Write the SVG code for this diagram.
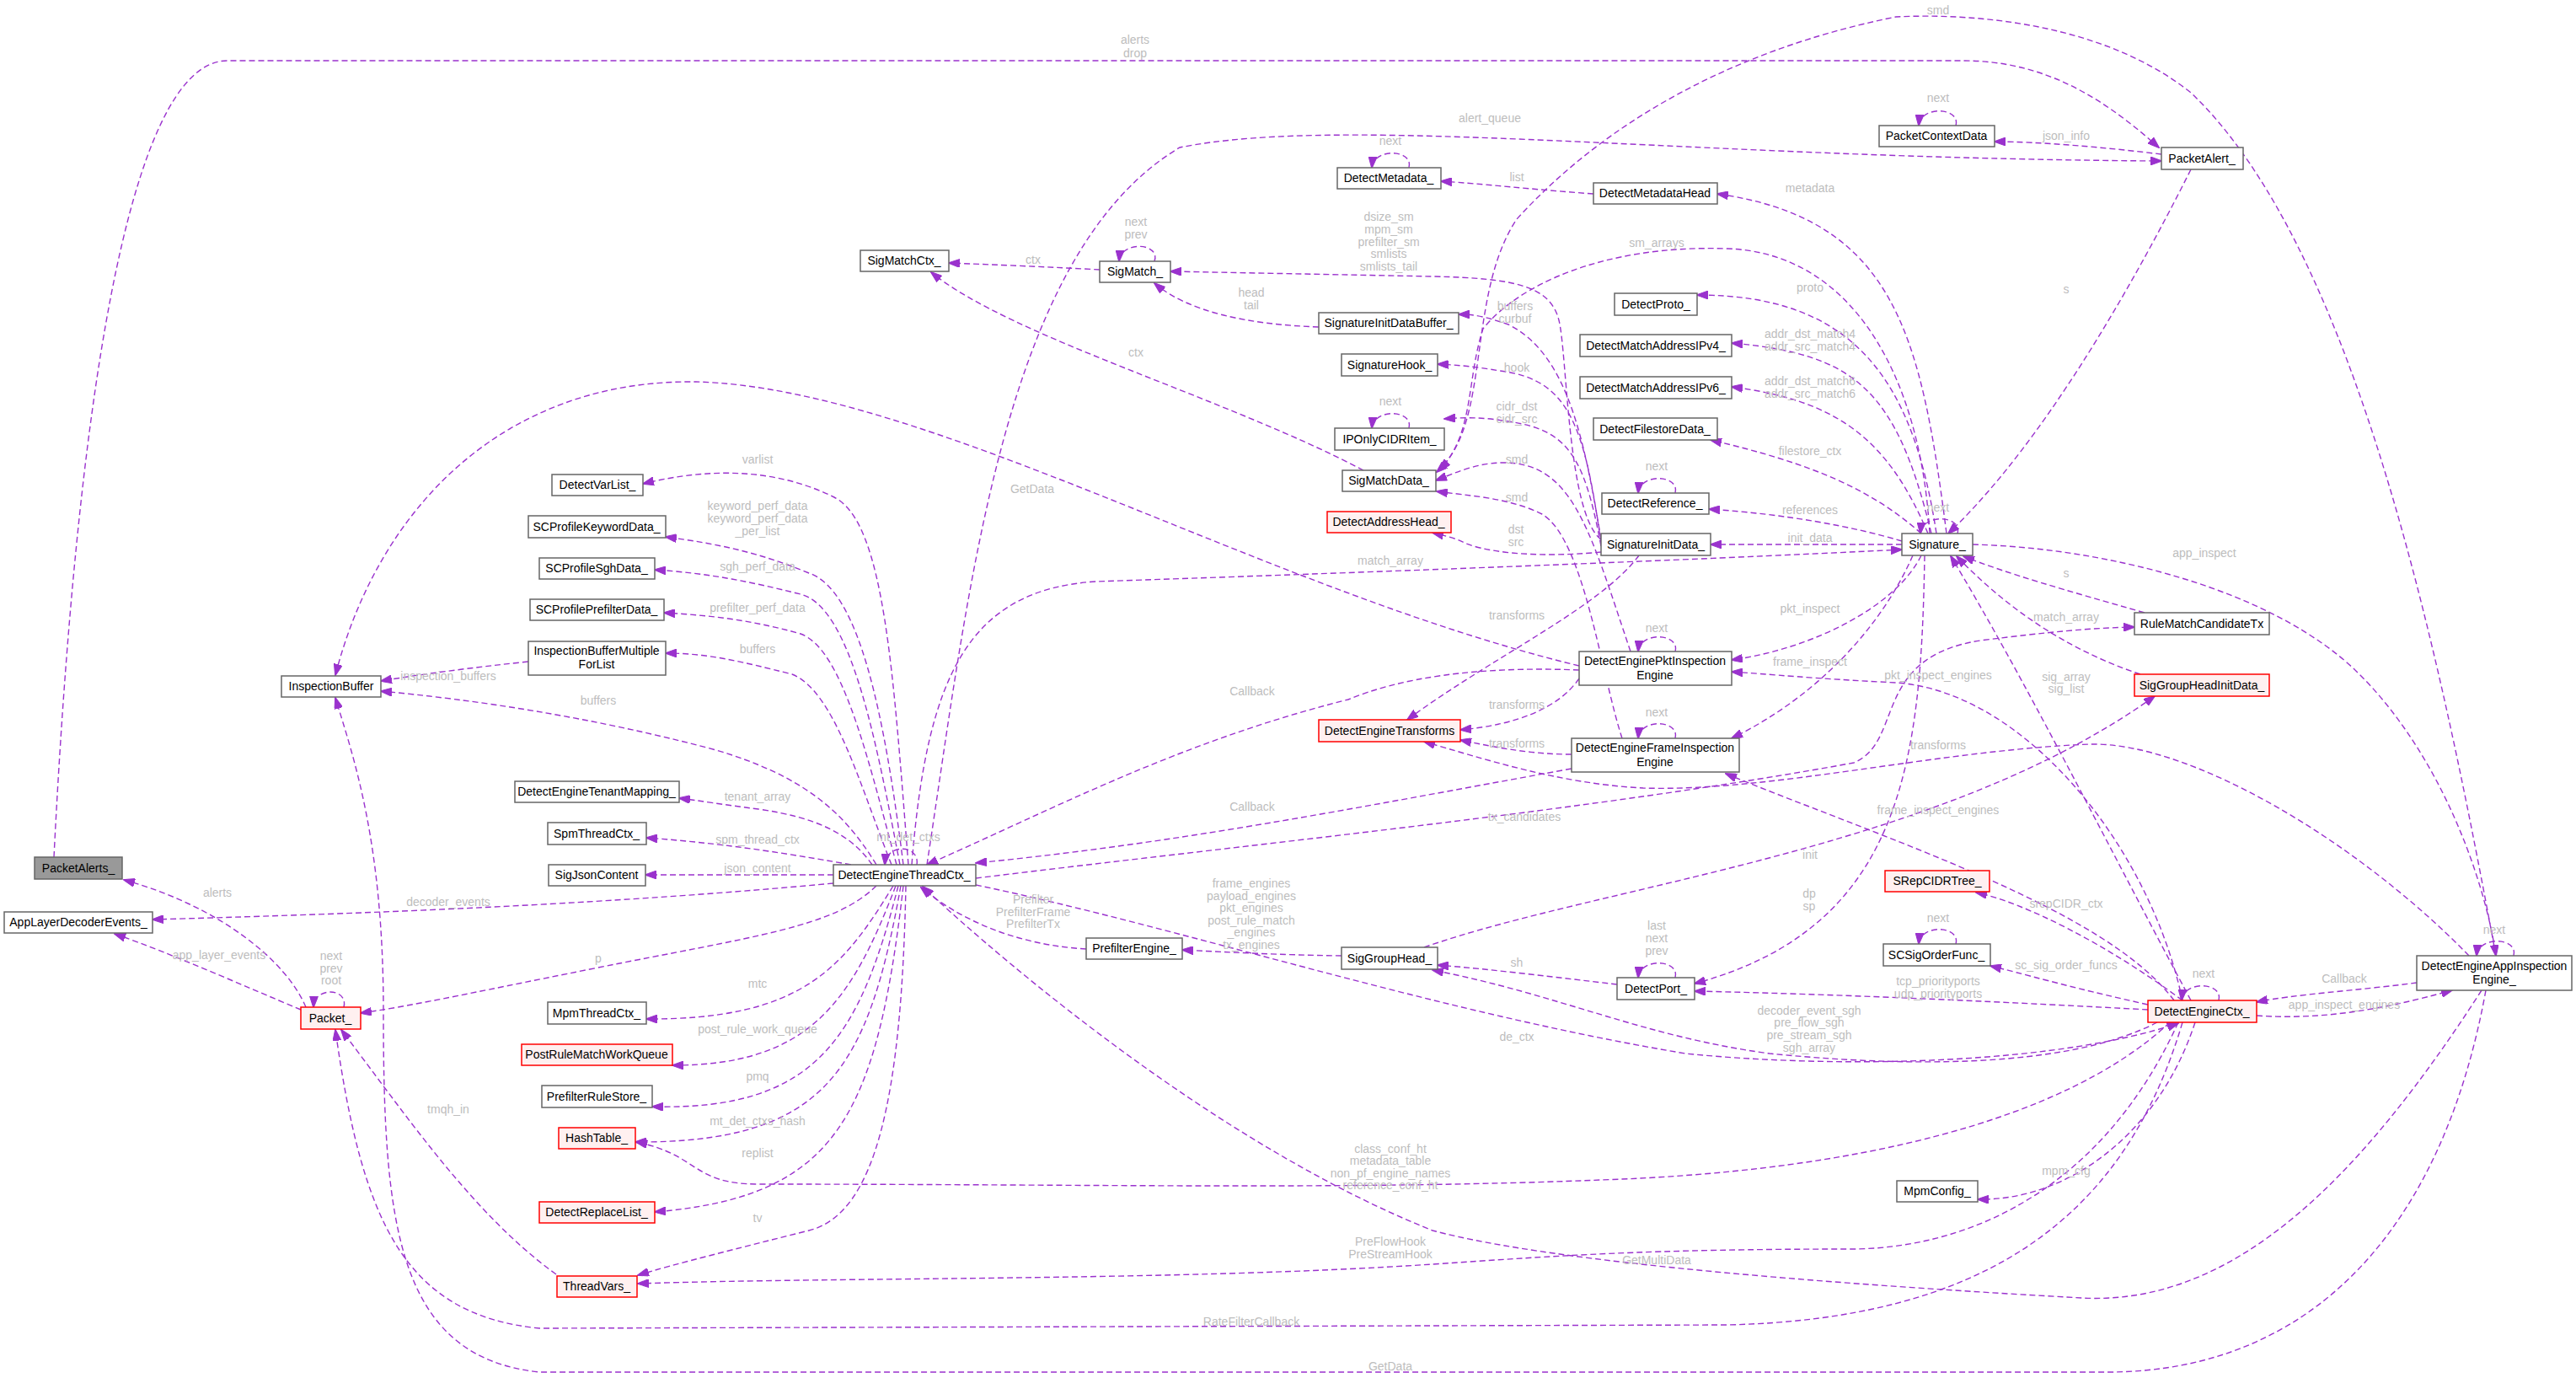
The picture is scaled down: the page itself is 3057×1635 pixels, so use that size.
<svg xmlns="http://www.w3.org/2000/svg" width="3057" height="1635" viewBox="0 0 3057 1635">
<style>
.n rect{fill:#fff;stroke:#666;stroke-width:1.5}
.r rect{fill:#fff0f0;stroke:#f00;stroke-width:1.5}
.g rect{fill:#999;stroke:#666;stroke-width:1.5}
.n text,.r text,.g text{font-family:"Liberation Sans",Arial,sans-serif;font-size:14px;fill:#000;text-anchor:middle}
#edges path{fill:none;stroke:#9a32cd;stroke-width:1.4;stroke-dasharray:7,4;marker-end:url(#ah)}
.l{font-family:"Liberation Sans",Arial,sans-serif;font-size:14px;fill:#bdbdbd;text-anchor:middle}
</style>
<defs>
<marker id="ah" markerWidth="14" markerHeight="10" refX="13" refY="5" orient="auto" markerUnits="userSpaceOnUse">
<path d="M0,0 L14,5 L0,10 z" fill="#9a32cd" stroke="#9a32cd"/>
</marker>
</defs>
<rect width="3057" height="1635" fill="#fff"/>
<g id="edges">
<path d="M64 1017 C90 500,150 72,270 72 L2330 72 C2430 72,2500 120,2562 175"/>
<path d="M363 1195 C340 1140,260 1075,147 1044"/>
<path d="M357 1198 C290 1170,200 1130,136 1108"/>
<path d="M408 1195 C414 1172,373 1170,372 1195"/>
<path d="M989 1048 C700 1075,400 1085,181 1091"/>
<path d="M1040 1051 C990 1100,900 1110,700 1150 C550 1180,480 1195,428 1202"/>
<path d="M660 1512 C560 1440,480 1320,405 1222"/>
<path d="M2950 1175 C2900 1450,2750 1628,2500 1628 L640 1628 C470 1610,455 1450,455 1200 C455 1000,420 900,398 828"/>
<path d="M2590 1213 C2520 1450,2350 1565,2050 1572 L640 1576 C480 1560,430 1450,398 1222"/>
<path d="M2945 1175 C2800 1400,2650 1550,2470 1540 C2200 1525,1850 1500,1700 1460 C1450 1360,1200 1150,1095 1052"/>
<path d="M2585 1213 C2500 1400,2350 1480,2200 1482 C1950 1482,1850 1490,1700 1500 C1400 1520,1000 1515,757 1523"/>
<path d="M2575 1213 C2450 1330,2200 1390,1900 1400 C1600 1412,1300 1405,900 1405 C820 1405,830 1370,755 1355"/>
<path d="M1078 1026 C1060 800,1050 620,990 590 C920 555,840 555,763 574"/>
<path d="M1072 1026 C1050 850,1020 700,960 680 C900 655,850 645,790 637"/>
<path d="M1068 1026 C1040 880,1010 720,950 705 C890 690,840 680,777 676"/>
<path d="M1064 1026 C1030 900,1000 770,950 752 C890 735,840 730,788 727"/>
<path d="M1058 1026 C1020 930,990 820,940 800 C880 785,840 775,790 775"/>
<path d="M1040 1026 C1000 960,950 920,850 890 C700 850,560 830,452 820"/>
<path d="M1035 1026 C1010 990,970 970,900 960 C860 955,830 950,806 947"/>
<path d="M1010 1026 C920 1010,850 1000,767 994"/>
<path d="M989 1038 L766 1038"/>
<path d="M1060 1051 C1000 1150,950 1210,767 1209"/>
<path d="M1063 1051 C1010 1190,960 1264,798 1264"/>
<path d="M1066 1051 C1020 1230,970 1318,774 1313"/>
<path d="M1069 1051 C1030 1270,980 1356,754 1355"/>
<path d="M1072 1051 C1040 1330,990 1420,777 1438"/>
<path d="M1075 1051 C1070 1300,1040 1440,960 1460 C880 1480,800 1500,757 1513"/>
<path d="M1088 1026 C1092 1002,1052 1000,1050 1026"/>
<path d="M627 785 C560 792,500 800,452 808"/>
<path d="M1305 320 C1250 317,1180 314,1126 312"/>
<path d="M1618 558 C1450 470,1200 400,1105 323"/>
<path d="M1370 310 C1378 288,1330 285,1328 310"/>
<path d="M1565 388 C1480 385,1410 370,1370 336"/>
<path d="M1900 640 C1860 610,1860 420,1850 380 C1840 340,1800 330,1700 328 L1389 322"/>
<path d="M2290 633 C2280 450,2200 300,2050 295 C1900 290,1800 340,1760 390 C1740 450,1750 520,1705 560"/>
<path d="M2962 1134 C2900 800,2800 300,2600 110 C2500 30,2350 15,2250 20 C2050 60,1900 150,1800 260 C1740 350,1770 500,1708 557"/>
<path d="M1935 773 C1890 640,1870 560,1800 550 C1760 545,1730 560,1704 570"/>
<path d="M1925 876 C1900 800,1880 640,1830 610 C1790 590,1740 588,1705 583"/>
<path d="M1900 640 C1880 520,1860 420,1790 385 C1760 375,1750 373,1731 373"/>
<path d="M1900 645 C1880 500,1860 450,1780 440 C1750 435,1730 433,1706 432"/>
<path d="M1900 648 C1880 540,1860 510,1790 500 C1760 495,1740 495,1714 497"/>
<path d="M1672 508 C1678 486,1630 484,1628 508"/>
<path d="M1900 655 C1850 660,1780 660,1740 645 C1730 640,1725 638,1700 632"/>
<path d="M1672 199 C1678 177,1630 175,1628 199"/>
<path d="M1988 585 C1994 563,1946 561,1944 585"/>
<path d="M1945 659 C1900 720,1770 780,1670 854"/>
<path d="M1874 805 C1850 840,1800 860,1733 866"/>
<path d="M1865 895 C1820 895,1780 888,1733 878"/>
<path d="M2930 1134 C2800 1000,2600 880,2480 883 C2300 890,2100 940,1950 935 C1850 930,1760 900,1690 880"/>
<path d="M1988 773 C1994 751,1946 749,1944 773"/>
<path d="M1988 876 C1994 854,1946 852,1944 876"/>
<path d="M2280 659 C2250 720,2150 770,2055 783"/>
<path d="M2270 659 C2230 750,2150 830,2055 876"/>
<path d="M2590 1187 C2550 1000,2400 820,2250 810 C2150 805,2100 800,2055 797"/>
<path d="M2580 1187 C2500 1080,2250 1000,2048 918"/>
<path d="M2310 633 C2280 400,2250 260,2038 230"/>
<path d="M1891 230 C1820 225,1760 218,1710 215"/>
<path d="M2298 633 C2270 450,2200 350,2014 350"/>
<path d="M2292 633 C2250 460,2200 420,2055 407"/>
<path d="M2288 633 C2240 520,2180 475,2055 459"/>
<path d="M2280 633 C2220 580,2150 550,2030 522"/>
<path d="M2257 642 C2200 625,2120 610,2028 604"/>
<path d="M2257 646 L2030 646"/>
<path d="M2323 633 C2329 611,2281 609,2279 633"/>
<path d="M2600 201 C2500 400,2400 550,2312 633"/>
<path d="M2565 183 C2500 175,2420 168,2367 168"/>
<path d="M2321 149 C2327 127,2279 125,2277 149"/>
<path d="M1100 1026 C1150 700,1190 300,1400 175 C1600 135,2000 188,2565 191"/>
<path d="M2341 646 C2500 650,2700 700,2800 800 C2900 900,2950 1050,2962 1134"/>
<path d="M2545 727 C2450 700,2380 680,2330 660"/>
<path d="M2540 800 C2450 770,2380 720,2322 660"/>
<path d="M2600 1187 C2500 1000,2400 800,2315 660"/>
<path d="M1158 1042 C1500 1000,1900 960,2200 905 C2260 880,2220 780,2350 760 C2430 750,2480 745,2533 744"/>
<path d="M1690 1124 C1900 1050,2300 1010,2557 826"/>
<path d="M2284 659 C2280 900,2260 1100,2011 1167"/>
<path d="M1919 1168 C1850 1160,1770 1150,1706 1145"/>
<path d="M1988 1160 C1994 1138,1946 1136,1944 1160"/>
<path d="M1592 1134 C1520 1133,1460 1130,1403 1127"/>
<path d="M1289 1126 C1220 1122,1150 1100,1093 1053"/>
<path d="M1158 1050 C1400 1100,1700 1200,2000 1250 C2200 1270,2450 1260,2585 1214"/>
<path d="M2560 1213 C2450 1270,2250 1265,2100 1250 C1950 1230,1850 1180,1700 1151"/>
<path d="M2549 1198 C2400 1190,2200 1180,2011 1176"/>
<path d="M2590 1187 C2500 1120,2400 1070,2345 1059"/>
<path d="M2549 1192 C2450 1170,2400 1155,2362 1146"/>
<path d="M2321 1120 C2327 1098,2279 1096,2277 1120"/>
<path d="M2633 1187 C2639 1165,2591 1163,2589 1187"/>
<path d="M2868 1166 C2800 1175,2720 1180,2678 1189"/>
<path d="M2678 1205 C2750 1210,2820 1200,2910 1175"/>
<path d="M2983 1134 C2989 1112,2941 1110,2939 1134"/>
<path d="M2605 1213 C2560 1350,2450 1425,2347 1423"/>
<path d="M1874 795 C1750 790,1660 805,1600 830 C1400 880,1250 960,1100 1026"/>
<path d="M1865 912 C1600 960,1400 1000,1158 1024"/>
<path d="M1082 1026 C1100 800,1150 700,1300 690 C1600 680,2000 665,2257 652"/>
<path d="M1874 790 C1500 700,1100 460,826 453 C600 450,450 600,398 801"/>
</g>
<g id="labels">
<text class="l" x="1347" y="52">alerts</text><text class="l" x="1347" y="68">drop</text>
<text class="l" x="258" y="1064">alerts</text>
<text class="l" x="260" y="1138">app_layer_events</text>
<text class="l" x="393" y="1139">next</text><text class="l" x="393" y="1154">prev</text><text class="l" x="393" y="1168">root</text>
<text class="l" x="532" y="1075">decoder_events</text>
<text class="l" x="710" y="1142">p</text>
<text class="l" x="532" y="1321">tmqh_in</text>
<text class="l" x="1650" y="1626">GetData</text>
<text class="l" x="1485" y="1573">RateFilterCallback</text>
<text class="l" x="1966" y="1500">GetMultiData</text>
<text class="l" x="1650" y="1478">PreFlowHook</text><text class="l" x="1650" y="1493">PreStreamHook</text>
<text class="l" x="1650" y="1368">class_conf_ht</text><text class="l" x="1650" y="1382">metadata_table</text><text class="l" x="1650" y="1397">non_pf_engine_names</text><text class="l" x="1650" y="1411">reference_conf_ht</text>
<text class="l" x="899" y="550">varlist</text>
<text class="l" x="899" y="605">keyword_perf_data</text><text class="l" x="899" y="620">keyword_perf_data</text><text class="l" x="899" y="635">_per_list</text>
<text class="l" x="899" y="677">sgh_perf_data</text>
<text class="l" x="899" y="726">prefilter_perf_data</text>
<text class="l" x="899" y="775">buffers</text>
<text class="l" x="710" y="836">buffers</text>
<text class="l" x="899" y="950">tenant_array</text>
<text class="l" x="899" y="1001">spm_thread_ctx</text>
<text class="l" x="899" y="1035">json_content</text>
<text class="l" x="899" y="1172">mtc</text>
<text class="l" x="899" y="1226">post_rule_work_queue</text>
<text class="l" x="899" y="1282">pmq</text>
<text class="l" x="899" y="1335">mt_det_ctxs_hash</text>
<text class="l" x="899" y="1373">replist</text>
<text class="l" x="899" y="1450">tv</text>
<text class="l" x="1078" y="998">mt_det_ctxs</text>
<text class="l" x="532" y="807">inspection_buffers</text>
<text class="l" x="1226" y="313">ctx</text>
<text class="l" x="1348" y="423">ctx</text>
<text class="l" x="1348" y="268">next</text><text class="l" x="1348" y="283">prev</text>
<text class="l" x="1485" y="352">head</text><text class="l" x="1485" y="367">tail</text>
<text class="l" x="1648" y="262">dsize_sm</text><text class="l" x="1648" y="277">mpm_sm</text><text class="l" x="1648" y="292">prefilter_sm</text><text class="l" x="1648" y="306">smlists</text><text class="l" x="1648" y="321">smlists_tail</text>
<text class="l" x="1966" y="293">sm_arrays</text>
<text class="l" x="2300" y="17">smd</text>
<text class="l" x="1800" y="550">smd</text>
<text class="l" x="1800" y="595">smd</text>
<text class="l" x="1798" y="368">buffers</text><text class="l" x="1798" y="383">curbuf</text>
<text class="l" x="1800" y="441">hook</text>
<text class="l" x="1800" y="487">cidr_dst</text><text class="l" x="1800" y="502">cidr_src</text>
<text class="l" x="1650" y="481">next</text>
<text class="l" x="1799" y="633">dst</text><text class="l" x="1799" y="648">src</text>
<text class="l" x="1650" y="172">next</text>
<text class="l" x="1966" y="558">next</text>
<text class="l" x="1800" y="735">transforms</text>
<text class="l" x="1800" y="841">transforms</text>
<text class="l" x="1800" y="887">transforms</text>
<text class="l" x="2300" y="889">transforms</text>
<text class="l" x="1966" y="750">next</text>
<text class="l" x="1966" y="850">next</text>
<text class="l" x="2148" y="727">pkt_inspect</text>
<text class="l" x="2148" y="790">frame_inspect</text>
<text class="l" x="2300" y="806">pkt_inspect_engines</text>
<text class="l" x="2300" y="966">frame_inspect_engines</text>
<text class="l" x="2148" y="228">metadata</text>
<text class="l" x="1800" y="215">list</text>
<text class="l" x="2148" y="346">proto</text>
<text class="l" x="2148" y="401">addr_dst_match4</text><text class="l" x="2148" y="416">addr_src_match4</text>
<text class="l" x="2148" y="457">addr_dst_match6</text><text class="l" x="2148" y="472">addr_src_match6</text>
<text class="l" x="2148" y="540">filestore_ctx</text>
<text class="l" x="2148" y="610">references</text>
<text class="l" x="2148" y="643">init_data</text>
<text class="l" x="2300" y="607">next</text>
<text class="l" x="2452" y="348">s</text>
<text class="l" x="2452" y="166">json_info</text>
<text class="l" x="2300" y="121">next</text>
<text class="l" x="1768" y="145">alert_queue</text>
<text class="l" x="2616" y="661">app_inspect</text>
<text class="l" x="2452" y="685">s</text>
<text class="l" x="2452" y="737">match_array</text>
<text class="l" x="2452" y="808">sig_array</text><text class="l" x="2452" y="822">sig_list</text>
<text class="l" x="1809" y="974">tx_candidates</text>
<text class="l" x="2148" y="1019">init</text>
<text class="l" x="2147" y="1065">dp</text><text class="l" x="2147" y="1080">sp</text>
<text class="l" x="1800" y="1147">sh</text>
<text class="l" x="1966" y="1103">last</text><text class="l" x="1966" y="1118">next</text><text class="l" x="1966" y="1133">prev</text>
<text class="l" x="1485" y="1053">frame_engines</text><text class="l" x="1485" y="1068">payload_engines</text><text class="l" x="1485" y="1082">pkt_engines</text><text class="l" x="1485" y="1097">post_rule_match</text><text class="l" x="1485" y="1111">_engines</text><text class="l" x="1485" y="1126">tx_engines</text>
<text class="l" x="1226" y="1072">Prefilter</text><text class="l" x="1226" y="1087">PrefilterFrame</text><text class="l" x="1226" y="1101">PrefilterTx</text>
<text class="l" x="1800" y="1235">de_ctx</text>
<text class="l" x="2147" y="1204">decoder_event_sgh</text><text class="l" x="2147" y="1218">pre_flow_sgh</text><text class="l" x="2147" y="1233">pre_stream_sgh</text><text class="l" x="2147" y="1248">sgh_array</text>
<text class="l" x="2300" y="1169">tcp_priorityports</text><text class="l" x="2300" y="1184">udp_priorityports</text>
<text class="l" x="2452" y="1077">srepCIDR_ctx</text>
<text class="l" x="2452" y="1150">sc_sig_order_funcs</text>
<text class="l" x="2300" y="1094">next</text>
<text class="l" x="2615" y="1160">next</text>
<text class="l" x="2782" y="1166">Callback</text>
<text class="l" x="2782" y="1197">app_inspect_engines</text>
<text class="l" x="2960" y="1108">next</text>
<text class="l" x="2452" y="1394">mpm_cfg</text>
<text class="l" x="1486" y="825">Callback</text>
<text class="l" x="1486" y="962">Callback</text>
<text class="l" x="1650" y="670">match_array</text>
<text class="l" x="1225" y="585">GetData</text>
</g>
<g id="PacketAlerts_" class="g"><rect x="41" y="1017" width="104" height="26"/><text x="93" y="1035">PacketAlerts_</text></g>
<g id="AppLayerDecoderEvents_" class="n"><rect x="5" y="1082" width="176" height="25"/><text x="93" y="1099">AppLayerDecoderEvents_</text></g>
<g id="Packet_" class="r"><rect x="357" y="1195" width="71" height="26"/><text x="392" y="1213">Packet_</text></g>
<g id="InspectionBuffer" class="n"><rect x="334" y="802" width="118" height="25"/><text x="393" y="819">InspectionBuffer</text></g>
<g id="SigMatchCtx_" class="n"><rect x="1021" y="297" width="105" height="25"/><text x="1073" y="314">SigMatchCtx_</text></g>
<g id="DetectVarList_" class="n"><rect x="655" y="563" width="108" height="25"/><text x="709" y="580">DetectVarList_</text></g>
<g id="SCProfileKeywordData_" class="n"><rect x="627" y="612" width="163" height="26"/><text x="708" y="630">SCProfileKeywordData_</text></g>
<g id="SCProfileSghData_" class="n"><rect x="640" y="662" width="137" height="25"/><text x="708" y="679">SCProfileSghData_</text></g>
<g id="SCProfilePrefilterData_" class="n"><rect x="629" y="711" width="159" height="25"/><text x="708" y="728">SCProfilePrefilterData_</text></g>
<g id="InspectionBufferMultipleForList" class="n"><rect x="627" y="761" width="163" height="40"/><text x="708" y="777">InspectionBufferMultiple</text><text x="708" y="793">ForList</text></g>
<g id="DetectEngineTenantMapping_" class="n"><rect x="611" y="927" width="195" height="25"/><text x="708" y="944">DetectEngineTenantMapping_</text></g>
<g id="SpmThreadCtx_" class="n"><rect x="650" y="976" width="117" height="26"/><text x="708" y="994">SpmThreadCtx_</text></g>
<g id="SigJsonContent" class="n"><rect x="651" y="1026" width="115" height="25"/><text x="708" y="1043">SigJsonContent</text></g>
<g id="DetectEngineThreadCtx_" class="n"><rect x="989" y="1026" width="169" height="25"/><text x="1073" y="1043">DetectEngineThreadCtx_</text></g>
<g id="MpmThreadCtx_" class="n"><rect x="650" y="1189" width="117" height="26"/><text x="708" y="1207">MpmThreadCtx_</text></g>
<g id="PostRuleMatchWorkQueue" class="r"><rect x="619" y="1239" width="179" height="25"/><text x="708" y="1256">PostRuleMatchWorkQueue</text></g>
<g id="PrefilterRuleStore_" class="n"><rect x="643" y="1288" width="131" height="26"/><text x="708" y="1306">PrefilterRuleStore_</text></g>
<g id="HashTable_" class="r"><rect x="663" y="1338" width="91" height="25"/><text x="708" y="1355">HashTable_</text></g>
<g id="DetectReplaceList_" class="r"><rect x="640" y="1426" width="137" height="25"/><text x="708" y="1443">DetectReplaceList_</text></g>
<g id="ThreadVars_" class="r"><rect x="661" y="1514" width="95" height="25"/><text x="708" y="1531">ThreadVars_</text></g>
<g id="DetectMetadata_" class="n"><rect x="1587" y="199" width="123" height="25"/><text x="1648" y="216">DetectMetadata_</text></g>
<g id="DetectMetadataHead" class="n"><rect x="1891" y="217" width="147" height="25"/><text x="1964" y="234">DetectMetadataHead</text></g>
<g id="SigMatch_" class="n"><rect x="1305" y="310" width="84" height="25"/><text x="1347" y="327">SigMatch_</text></g>
<g id="SignatureInitDataBuffer_" class="n"><rect x="1565" y="371" width="166" height="25"/><text x="1648" y="388">SignatureInitDataBuffer_</text></g>
<g id="DetectProto_" class="n"><rect x="1916" y="348" width="98" height="26"/><text x="1965" y="366">DetectProto_</text></g>
<g id="DetectMatchAddressIPv4_" class="n"><rect x="1875" y="397" width="180" height="26"/><text x="1965" y="415">DetectMatchAddressIPv4_</text></g>
<g id="DetectMatchAddressIPv6_" class="n"><rect x="1875" y="447" width="180" height="26"/><text x="1965" y="465">DetectMatchAddressIPv6_</text></g>
<g id="SignatureHook_" class="n"><rect x="1592" y="420" width="114" height="26"/><text x="1649" y="438">SignatureHook_</text></g>
<g id="IPOnlyCIDRItem_" class="n"><rect x="1584" y="508" width="130" height="26"/><text x="1649" y="526">IPOnlyCIDRItem_</text></g>
<g id="DetectFilestoreData_" class="n"><rect x="1891" y="496" width="147" height="26"/><text x="1964" y="514">DetectFilestoreData_</text></g>
<g id="SigMatchData_" class="n"><rect x="1593" y="558" width="111" height="25"/><text x="1648" y="575">SigMatchData_</text></g>
<g id="DetectReference_" class="n"><rect x="1901" y="585" width="127" height="25"/><text x="1964" y="602">DetectReference_</text></g>
<g id="DetectAddressHead_" class="r"><rect x="1575" y="607" width="147" height="25"/><text x="1648" y="624">DetectAddressHead_</text></g>
<g id="SignatureInitData_" class="n"><rect x="1900" y="633" width="130" height="26"/><text x="1965" y="651">SignatureInitData_</text></g>
<g id="DetectEnginePktInspectionEngine" class="n"><rect x="1874" y="773" width="181" height="40"/><text x="1964" y="789">DetectEnginePktInspection</text><text x="1964" y="806">Engine</text></g>
<g id="PacketContextData" class="n"><rect x="2230" y="149" width="137" height="25"/><text x="2298" y="166">PacketContextData</text></g>
<g id="PacketAlert_" class="n"><rect x="2565" y="175" width="97" height="26"/><text x="2613" y="193">PacketAlert_</text></g>
<g id="Signature_" class="n"><rect x="2257" y="633" width="84" height="26"/><text x="2299" y="651">Signature_</text></g>
<g id="RuleMatchCandidateTx" class="n"><rect x="2533" y="727" width="160" height="26"/><text x="2613" y="745">RuleMatchCandidateTx</text></g>
<g id="SigGroupHeadInitData_" class="r"><rect x="2533" y="800" width="160" height="26"/><text x="2613" y="818">SigGroupHeadInitData_</text></g>
<g id="DetectEngineTransforms" class="r"><rect x="1565" y="854" width="168" height="26"/><text x="1649" y="872">DetectEngineTransforms</text></g>
<g id="DetectEngineFrameInspectionEngine" class="n"><rect x="1865" y="876" width="199" height="40"/><text x="1964" y="892">DetectEngineFrameInspection</text><text x="1964" y="909">Engine</text></g>
<g id="PrefilterEngine_" class="n"><rect x="1289" y="1113" width="114" height="25"/><text x="1346" y="1130">PrefilterEngine_</text></g>
<g id="SigGroupHead_" class="n"><rect x="1592" y="1124" width="114" height="26"/><text x="1649" y="1142">SigGroupHead_</text></g>
<g id="DetectPort_" class="n"><rect x="1919" y="1160" width="92" height="26"/><text x="1965" y="1178">DetectPort_</text></g>
<g id="SRepCIDRTree_" class="r"><rect x="2237" y="1033" width="124" height="25"/><text x="2299" y="1050">SRepCIDRTree_</text></g>
<g id="SCSigOrderFunc_" class="n"><rect x="2235" y="1120" width="127" height="26"/><text x="2298" y="1138">SCSigOrderFunc_</text></g>
<g id="DetectEngineCtx_" class="r"><rect x="2549" y="1187" width="129" height="26"/><text x="2613" y="1205">DetectEngineCtx_</text></g>
<g id="DetectEngineAppInspectionEngine_" class="n"><rect x="2868" y="1134" width="184" height="41"/><text x="2960" y="1151">DetectEngineAppInspection</text><text x="2960" y="1167">Engine_</text></g>
<g id="MpmConfig_" class="n"><rect x="2251" y="1401" width="96" height="25"/><text x="2299" y="1418">MpmConfig_</text></g>
</svg>
